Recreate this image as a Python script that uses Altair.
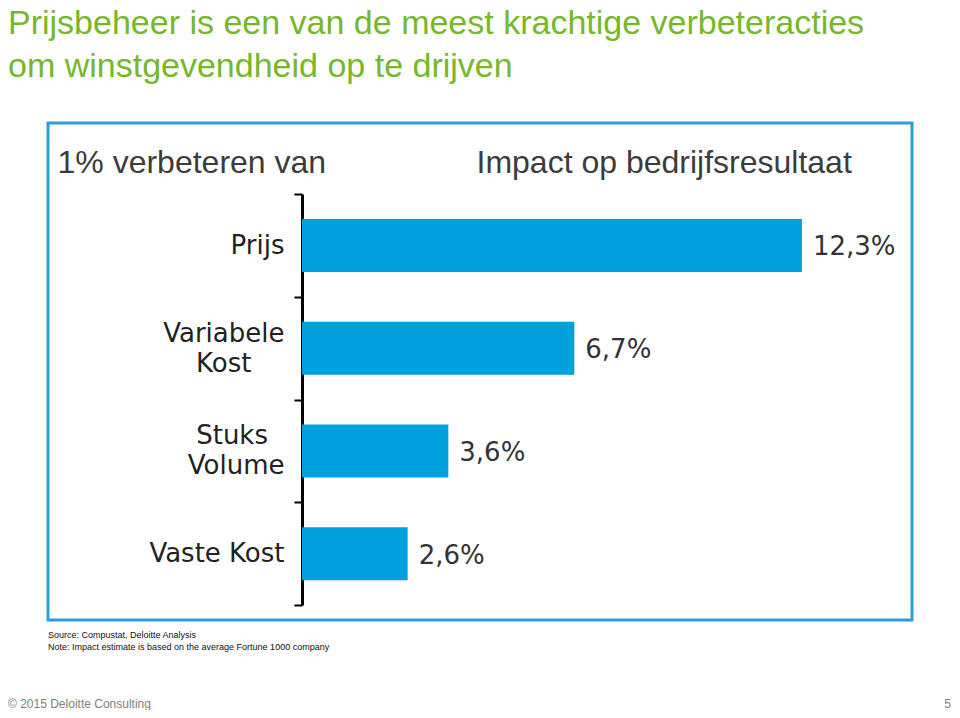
import json
import altair as alt
import pandas as pd

# ---- data ----
categories = ["Prijs", "Variabele Kost", "Stuks Volume", "Vaste Kost"]
category_lines = [["Prijs"], ["Variabele", "Kost"], ["Stuks", "Volume"], ["Vaste Kost"]]
impact = [12.3, 6.7, 3.6, 2.6]
impact_labels = ["12,3%", "6,7%", "3,6%", "2,6%"]

title_lines = ["Prijsbeheer is een van de meest krachtige verbeteracties",
               "om winstgevendheid op te drijven"]
left_header = "1% verbeteren van"
right_header = "Impact op bedrijfsresultaat"
notes = ["Source: Compustat, Deloitte Analysis",
         "Note: Impact estimate is based on the average Fortune 1000 company"]
footer_left = "\u00a9 2015 Deloitte Consulting"
footer_right = "5"

df = pd.DataFrame({"cat": categories, "value": impact, "label": impact_labels})
one = pd.DataFrame({"a": [0]})

# ---- centre multi-line tick labels (right aligned block, lines centred) ----
EM = {"V": .684, "a": .613, "r": .411, "i": .278, "b": .635, "e": .615, "l": .278,
      "K": .656, "o": .612, "s": .521, "t": .392, "S": .635, "u": .634, "k": .579,
      "m": .974, "P": .603, "j": .278, " ": .318}
NBSP = "\u00a0"
ZWSP = "\u200b"  # keeps the padding from being trimmed


def width(s):
    return sum(EM.get(c, .6) for c in s)


def centred(lines):
    w = max(width(l) for l in lines)
    out = []
    for l in lines:
        n = round((w - width(l)) / 2 / EM[" "])
        out.append(l + NBSP * n + (ZWSP if n else ""))
    return out


label_map = {c: centred(ls) for c, ls in zip(categories, category_lines)}
label_expr = "(" + json.dumps(label_map, ensure_ascii=False) + ")[datum.value]"
multi = [c for c, ls in zip(categories, category_lines) if len(ls) > 1]
multi_test = " || ".join("datum.value == '%s'" % c for c in multi)

BLUE = "#00A0DC"
GREEN = "#76B82A"
HEAD = "#3C3C3C"

W, H = 864, 497

y_enc = alt.Y(
    "cat:N", sort=None,
    scale=alt.Scale(range=[71, 482], paddingInner=0, paddingOuter=0),
    axis=alt.Axis(
        title=left_header, titleAngle=0, titleX=-245, titleY=49,
        titleAlign="left", titleBaseline="alphabetic",
        titleFont="Liberation Sans", titleFontSize=32, titleFontWeight="normal",
        titleColor=HEAD,
        offset=-254, tickBand="extent",
        domainColor="black", domainWidth=3,
        tickColor="black", tickWidth=2, tickSize=8,
        labelFont="DejaVu Sans", labelFontSize=26, labelColor="#222222",
        labelPadding=10, labelLineHeight=30,
        labelExpr=label_expr,
        labelOffset={"condition": {"test": multi_test, "value": -15}, "value": 0},
    ),
)
x_enc = alt.X(
    "value:Q",
    scale=alt.Scale(domain=[0, 14], range=[254, 823], nice=False),
    axis=alt.Axis(
        orient="top", title=right_header, domain=False, ticks=False,
        labels=False, grid=False, titleX=428, titleY=49,
        titleAlign="left", titleBaseline="alphabetic",
        titleFont="Liberation Sans", titleFontSize=32, titleFontWeight="normal",
        titleColor=HEAD,
    ),
)

bars = alt.Chart(df).mark_bar(size=53, color=BLUE).encode(y=y_enc, x=x_enc)
vals = alt.Chart(df).mark_text(
    align="left", baseline="middle", dx=11, dy=2,
    font="DejaVu Sans", fontSize=26, color="#333333"
).encode(y=alt.Y("cat:N", sort=None), x="value:Q", text="label:N")

title = alt.Chart(one).mark_text(
    align="left", baseline="alphabetic", font="Liberation Sans",
    fontSize=34, lineHeight=43, color=GREEN
).encode(x=alt.value(-40), y=alt.value(-89), text=alt.value(title_lines))

note = alt.Chart(one).mark_text(
    align="left", baseline="alphabetic", font="Liberation Sans",
    fontSize=9, lineHeight=12, color="#111111"
).encode(x=alt.value(0), y=alt.value(515), text=alt.value(notes))

foot_l = alt.Chart(one).mark_text(
    align="left", baseline="alphabetic", font="Liberation Sans",
    fontSize=12, color="#808080"
).encode(x=alt.value(-40), y=alt.value(585), text=alt.value(footer_left))

foot_r = alt.Chart(one).mark_text(
    align="right", baseline="alphabetic", font="Liberation Sans",
    fontSize=12, color="#808080"
).encode(x=alt.value(903), y=alt.value(585), text=alt.value(footer_right))

chart = alt.layer(bars, vals, title, note, foot_l, foot_r).properties(
    width=W, height=H,
    autosize=alt.AutoSizeParams(type="none"),
    padding={"left": 40, "top": 115, "right": 40, "bottom": 90},
).configure_view(stroke="#2A9FD8", strokeWidth=3)

chart.save("out.html", embed_options={"renderer": "svg", "actions": False})
